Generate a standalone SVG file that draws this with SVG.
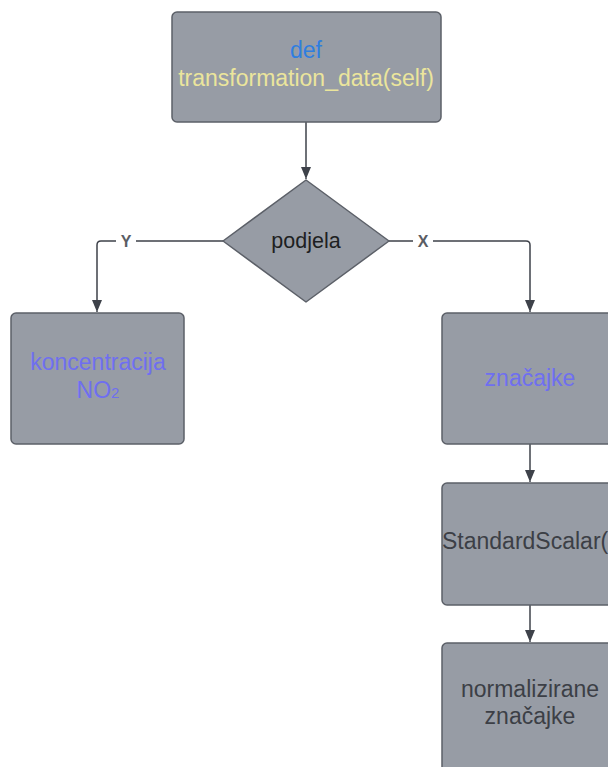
<svg xmlns="http://www.w3.org/2000/svg" width="608" height="767" viewBox="0 0 608 767">
<defs>
<style>
.box{fill:#979ca5;stroke:#5c6068;stroke-width:1.5}
.t{font-family:"Liberation Sans",Arial,sans-serif;font-size:23px;text-anchor:middle}
.c{fill:none;stroke:#3e424a;stroke-width:1.5}
.lbl{font-family:"Liberation Sans",Arial,sans-serif;font-size:16px;font-weight:bold;fill:#5a5d64;text-anchor:middle}
</style>
<marker id="ah" viewBox="0 0 10 12" refX="12" refY="5" markerWidth="10" markerHeight="12" markerUnits="userSpaceOnUse" orient="auto">
<path d="M0,0 L12,5 L0,10 z" fill="#3e424a"/>
</marker>
</defs>
<rect width="608" height="767" fill="#ffffff"/>
<g id="connectors">
<path class="c" d="M306,122 V179" marker-end="url(#ah)"/>
<path class="c" d="M223,241 H101 Q97,241 97,245 V312" marker-end="url(#ah)"/>
<rect x="116" y="231" width="20" height="20" fill="#fff"/>
<text class="lbl" x="126" y="247">Y</text>
<path class="c" d="M389,241 H526 Q530,241 530,245 V312" marker-end="url(#ah)"/>
<rect x="413" y="231" width="20" height="20" fill="#fff"/>
<text class="lbl" x="423" y="247">X</text>
<path class="c" d="M530,444 V482" marker-end="url(#ah)"/>
<path class="c" d="M530,605 V642" marker-end="url(#ah)"/>
</g>
<g id="n-def">
<rect class="box" x="172" y="12" width="269" height="110" rx="5"/>
<text class="t" x="306" y="58" fill="#2f7ee0">def</text>
<text class="t" x="306" y="86" fill="#ebe59c">transformation_data(self)</text>
</g>
<g id="n-podjela">
<path class="box" d="M306,180 L389,241 L306,302 L223,241 Z" stroke-linejoin="round"/>
<text class="t" x="306" y="248" fill="#1e1f22" style="font-size:21.5px">podjela</text>
</g>
<g id="n-konc">
<rect class="box" x="11" y="313" width="173" height="131" rx="5"/>
<text class="t" x="98" y="370" fill="#6f6ff0">koncentracija</text>
<text class="t" x="98" y="398" fill="#6f6ff0">NO<tspan style="font-size:15px">2</tspan></text>
</g>
<g id="n-znacajke">
<rect class="box" x="442" y="313" width="176" height="131" rx="5"/>
<text class="t" x="530" y="386" fill="#6f6ff0">značajke</text>
</g>
<g id="n-scalar">
<rect class="box" x="442" y="483" width="176" height="122" rx="5"/>
<text class="t" x="442" y="549" fill="#3c3f46" style="text-anchor:start">StandardScalar()</text>
</g>
<g id="n-norm">
<rect class="box" x="442" y="643" width="176" height="140" rx="5"/>
<text class="t" x="530" y="697" fill="#3c3f46">normalizirane</text>
<text class="t" x="530" y="724" fill="#3c3f46">značajke</text>
</g>
</svg>
